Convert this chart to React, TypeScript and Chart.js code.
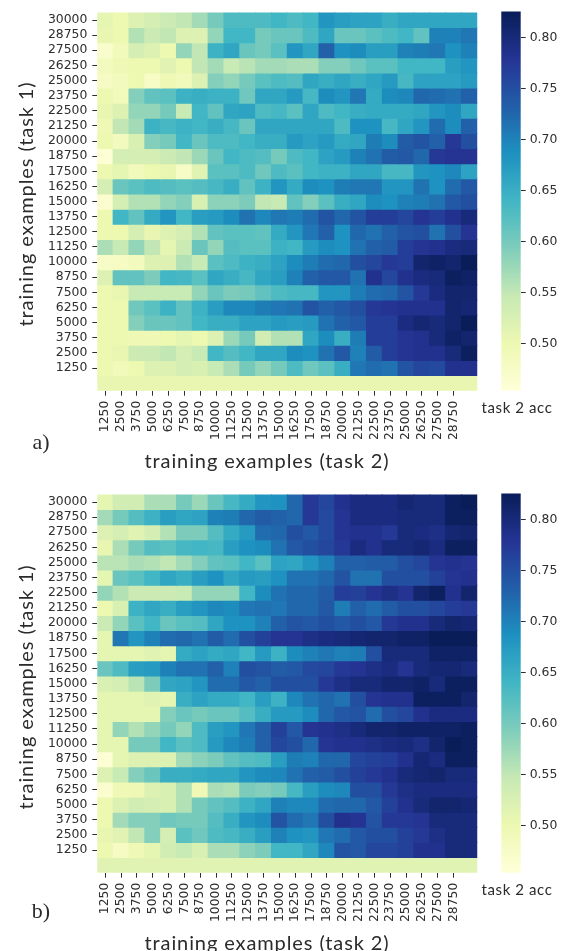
import React, { useEffect, useRef } from "react";
import { Chart, registerables } from "chart.js";

Chart.register(...registerables);

const columnLabels = ["1250","2500","3750","5000","6250","7500","8750","10000","11250","12500","13750","15000","16250","17500","18750","20000","21250","22500","23750","25000","26250","27500","28750",""];
const rowLabels = ["30000","28750","27500","26250","25000","23750","22500","21250","20000","18750","17500","16250","15000","13750","12500","11250","10000","8750","7500","6250","5000","3750","2500","1250",""];
const colorbarTicks = [0.5, 0.55, 0.6, 0.65, 0.7, 0.75, 0.8];
const paletteStops = ["#ffffd9","#edf8b1","#c7e9b4","#7fcdbb","#41b6c4","#1d91c0","#225ea8","#253494","#081d58"];
const accMin = 45.36;
const accMax = 82.6;

const accA = [
[51,50,52,53,54,55,57,60,63,63,63,64,63,64,68,67,66.5,66.5,65,66,66,66,66,66],
[50.5,50,56,54,55,52,52,58,64,64,60,61,61,63,66,61,61,62,63,64,61.5,70,70,71],
[47,49,53,52,50,58,55,64.5,66,61,60,62,68,66,73,68.5,69,67,67,70,70.5,71,68.5,70],
[48.5,49.5,50,50,51.5,50,55,57,54.5,55.5,57,57,56.5,56.5,59,59,60.5,62,62,64,64,64,67,68],
[48,48.5,50,47.5,49.5,49,52,59,58,60,62,63,62.5,66,65,66,65,66,67.5,63.5,66.5,66.5,66.5,67.5],
[50,49,59,61.5,62,64.5,65,64.5,64.5,60.5,66,66,67.5,63.5,69,68,71,65.5,69,69.5,72.5,72,71.5,73],
[50.5,52,58,58,60,54.5,64,61.5,66,66.5,63,63.5,62,66,63,64,65,65.5,65.5,65.5,66,68,69,66],
[49.5,55,57,64.5,63.5,64.5,64,65,63.5,61,66,66,66,66,66,63,68.5,68.5,63.5,66,68,72,69,73],
[50,48.5,52.5,59,60,64,61,63,63,64,65,65,67.5,66.5,67.5,65.5,66,70.5,69,73.5,74.5,73,77.5,75],
[46,53,53,53,54,55,57.5,61,64,63,62.5,60,63,64,66.5,67.5,70,71.5,73.5,74,72.5,77.5,78,78],
[50,51,49,50,50.5,47.5,51.5,62,62,63,60.5,63,62,64,64.5,64.5,66,66,63.5,63.5,68,68.5,69.5,66.5],
[53,61,62,63,62.5,62,62.5,63.5,65,61.5,64.5,68,65.5,69,68.5,70.5,71,71,68,68,71.5,68.5,72,74],
[46.5,53,56,56,58,59,52.5,58.5,58.5,59.5,55,54.5,61.5,59,62,65,66,69,68.5,70,70.5,71.5,74,75],
[50,64,61.5,65.5,68,64,67,67.5,69,71.5,69.5,71,70.5,72,74.5,72.5,74.5,77,77,76,78,77,78.5,80],
[50,50,53,50.5,52,53,56,61.5,62,62,61.5,65.5,68,71,73,68.5,72.5,71.5,73,74.5,75,71.5,75,78],
[56.5,54.5,58,55,51,54,61,58,62.5,62,62,64.5,64,67.5,69,68.5,71.5,73,73.5,77,78,78.5,79.5,80],
[47.5,48,48.5,52,52,56,54.5,62,63,64.5,65,66.5,69,70.5,72,72.5,75,76,77.5,77,81,81.5,81,82.5],
[52,61.5,61.5,59.5,64,63.5,62,66,65,63.5,66,67,70,73,74,74,71.5,78.5,76,78.5,79.5,80,82,81.5],
[50,50.5,54.5,54.5,54.5,54.5,58,61,59.5,60,61.5,63,63.5,63.5,68,68,70.5,72,72.5,74.5,77.5,79.5,81,81],
[50,50,60.5,62,64.5,61.5,64.5,67,69.5,69.5,70.5,71,71.5,74.5,73,74,75,77.5,78,78.5,78.5,78.5,81,80.5],
[50,50,59,61,61,61.5,64,65,65,66.5,66.5,67.5,67,67.5,71.5,73,74,77,77,79.5,80.5,80,81,82.5],
[50,50,49.5,49.5,50,51,50,52,57.5,60,53.5,56,56,66,69,65,70.5,77,77,78,78.5,80,81.5,81],
[50,50.5,54,54,55,53,54.5,64,62.5,64,66,66,69,68.5,71.5,74,70,73.5,77,78,78.5,78.5,80,82],
[50,49,50,52,52,53,52.5,54.5,56.5,60,58,60,63,60.5,62,65,71,72,71.5,74.5,76,75.5,78.5,78.5],
[50.5,50.5,50.5,50.5,50.5,50.5,50.5,50.5,50.5,50.5,50.5,50.5,50.5,50.5,50.5,50.5,50.5,50.5,50.5,50.5,50.5,50.5,50.5,50.5],
];

const accB = [
[51,53.5,53.5,56.5,56.5,60,57.5,61,63.5,65.5,68,68.5,72.5,77.5,76,78.5,79.5,79.5,79.5,80.5,80,80,82,82.5],
[57,60,62.5,64.5,67,66,66.5,70,70.5,72.5,73.5,73,72.5,77.5,75.5,78,79.5,79.5,79.5,80,80,80,82,82],
[52,53,51.5,53,56,59.5,59.5,62.5,65.5,67.5,72,72.5,75,74,75.5,78,78.5,78.5,77.5,80,79.5,79,80.5,81],
[50.5,56.5,60,62.5,62,63.5,64,63.5,67,68.5,69,71.5,74,75,76,77.5,79.5,78.5,80,80,80.5,79.5,82,82],
[55.5,55.5,56.5,56,55,57,59,61.5,62,64,62,66.5,66,68,70,73,73,73.5,73.5,75,76,78,78.5,78],
[51,61,62,64,66,65,67,68.5,66,67.5,67,68.5,71.5,71.5,72.5,74.5,71.5,71.5,75,75,75,76.5,78,78.5],
[58,56,54,54,54,54.5,58,58,58,64,69,71.5,72.5,72.5,73.5,77,76.5,78,79,78,81,82,78.5,81],
[50,52.5,64.5,66,65,67,68,69.5,69,71,71.5,71,72.5,72.5,74,70.5,73,72,73.5,75,75,76,77,77.5],
[54,58,62,64,61,62,62.5,66,68.5,68.5,70,73,74.5,74,75,74,75,74,77.5,78.5,78.5,80,81,80.5],
[51,71,68,70,72,72.5,71.5,73.5,72,75,76.5,78,78,79,79.5,80,80.5,81,81,81.5,81.5,82.5,82.5,82.5],
[51,51,51,51.5,51,65.5,66.5,65.5,66,64,67.5,64.5,69,70,71,70,70.5,75,80,80,80,81.5,81.5,81.5],
[61,63,67,67.5,70,71.5,71.5,73,70,75,74.5,73.5,74,75.5,76,77.5,78,79,79.5,78,80,80.5,80.5,80],
[52.5,53,55.5,59.5,66,66.5,68,72,72,74,73,75,75,75,77.5,79,80,80,81,81,81.5,80,82,82],
[51,51,51,51.5,51,65,66.5,65.5,65.5,64,67,64.5,69.5,71.5,72.5,71.5,75,78,78.5,78.5,82,82,82,81],
[51,51,51,51,59,61,60,61,61,62.5,65,67.5,67.5,69,72.5,74,74.5,72,75,76,78.5,79.5,79.5,79.5],
[51,58,56,58,60,58,63,67,68,71,73,76.5,74,78,78.5,79,80,81,81,81.5,81.5,81.5,81.5,82],
[51,51,60,60,64,62,63,67.5,69.5,70.5,73,76,75,72.5,78,78.5,78.5,79,79.5,80,79,81,82.5,82],
[46,51,52,52,52,57,58.5,59.5,61.5,62.5,63,67,70.5,70,72.5,72.5,76,76.5,77,78.5,80.5,79.5,82,82],
[52,54.5,59,61,65,65,65.5,66,66,68,69,69.5,71.5,73,73.5,75,76.5,77.5,78.5,80,80.5,81,80,80],
[46.5,49.5,49.5,52,52.5,56,49.5,56.5,56,59.5,59,60,63.5,67,69,69.5,75,75,77.5,79,79.5,79.5,79.5,79.5],
[50,52,53.5,53,52.5,56,60,61.5,62.5,64.5,66,70,69.5,69.5,72,72.5,72.5,74,76.5,78.5,80,81,81,80.5],
[50,57,59,59,60.5,60,60,62.5,65,68,69,74.5,72,71,75,78.5,78,74.5,77.5,77.5,78,80,80,80],
[50.5,51.5,55,59,53,62,60.5,63,63.5,65,67,70,68.5,68,71,72,74,75,75,76.5,77.5,79,80,80],
[50,48,49.5,51,53.5,54.5,52.5,56.5,56.5,58.5,59.5,64,64,66,69.5,74.5,74,76,76,76.5,78.5,78.5,80,80],
[51.5,51.5,51.5,51.5,51.5,51.5,51.5,51.5,51.5,51.5,51.5,51.5,51.5,51.5,51.5,51.5,51.5,51.5,51.5,51.5,51.5,51.5,51.5,51.5],
];

const TICK_FONT = { family: "'DejaVu Sans'", size: 12.4 };
const INK = "#2e2e2e";

function hexRgb(h: string) {
  return [parseInt(h.slice(1, 3), 16), parseInt(h.slice(3, 5), 16), parseInt(h.slice(5, 7), 16)];
}
function colorFor(v: number) {
  const t = Math.min(1, Math.max(0, (v - accMin) / (accMax - accMin))) * (paletteStops.length - 1);
  const i = Math.min(paletteStops.length - 2, Math.floor(t));
  const a = hexRgb(paletteStops[i]);
  const b = hexRgb(paletteStops[i + 1]);
  const f = t - i;
  return `rgb(${a.map((c, k) => Math.round(c + (b[k] - c) * f)).join(",")})`;
}

function Heatmap({ data, top, plotTop, plotH, h }: { data: number[][]; top: number; plotTop: number; plotH: number; h: number }) {
  const ref = useRef<HTMLCanvasElement>(null);
  useEffect(() => {
    const n = rowLabels.length;
    const chart = new Chart(ref.current!, {
      type: "bar",
      data: {
        labels: columnLabels,
        datasets: data.map((row, r) => ({
          data: row.map(() => [n - r - 1, n - r]),
          backgroundColor: row.map(colorFor),
          borderWidth: 0,
          inflateAmount: 0.5,
          grouped: false,
          barPercentage: 1,
          categoryPercentage: 1,
        })),
      } as any,
      options: {
        animation: false,
        responsive: false,
        devicePixelRatio: 1,
        layout: { padding: { top: plotTop, right: 12.7, left: 0, bottom: 0 } },
        plugins: { legend: { display: false }, tooltip: { enabled: false } },
        scales: {
          x: {
            type: "category",
            grid: {
              offset: false,
              drawOnChartArea: false,
              tickLength: 5,
              tickColor: (c: any) => (c.index === columnLabels.length - 1 ? "transparent" : INK),
            },
            border: { display: false },
            ticks: { autoSkip: false, minRotation: 90, maxRotation: 90, font: TICK_FONT, color: INK, padding: 5 },
            afterFit: (s: any) => { s.height = h - plotTop - plotH; },
          },
          y: {
            type: "linear",
            min: 0,
            max: n,
            afterBuildTicks: (s: any) => {
              s.ticks = rowLabels.slice(0, -1).map((_, i) => ({ value: n - i - 0.5 }));
            },
            grid: { drawOnChartArea: false, tickLength: 5, tickColor: INK },
            border: { display: false },
            ticks: {
              autoSkip: false,
              font: TICK_FONT,
              color: INK,
              padding: 5,
              callback: (v: any) => rowLabels[Math.round(n - Number(v) - 0.5)],
            },
            afterFit: (s: any) => { s.width = 97.3; },
          },
        },
      } as any,
    });
    return () => chart.destroy();
  }, []);
  return <canvas ref={ref} width={490} height={h} style={{ position: "absolute", left: 0, top, filter: "blur(0.45px)" }} />;
}

function Colorbar({ top, plotTop, plotH, h }: { top: number; plotTop: number; plotH: number; h: number }) {
  const ref = useRef<HTMLCanvasElement>(null);
  useEffect(() => {
    const chart = new Chart(ref.current!, {
      type: "bar",
      data: {
        labels: [""],
        datasets: [{
          data: [[accMin / 100, accMax / 100]],
          borderWidth: 0,
          barPercentage: 1,
          categoryPercentage: 1,
          backgroundColor: (c: any) => {
            const area = c.chart.chartArea;
            if (!area) return paletteStops[4];
            const g = c.chart.ctx.createLinearGradient(0, area.bottom, 0, area.top);
            paletteStops.forEach((p, i) => g.addColorStop(i / (paletteStops.length - 1), p));
            return g;
          },
        }],
      } as any,
      options: {
        animation: false,
        responsive: false,
        devicePixelRatio: 1,
        layout: { padding: { top: plotTop, left: 11.3, right: 0, bottom: h - plotTop - plotH } },
        plugins: { legend: { display: false }, tooltip: { enabled: false } },
        scales: {
          x: { display: false },
          y: {
            position: "right",
            min: accMin / 100,
            max: accMax / 100,
            afterBuildTicks: (s: any) => { s.ticks = colorbarTicks.map((value) => ({ value })); },
            grid: { drawOnChartArea: false, tickLength: 5, tickColor: INK },
            border: { display: false },
            ticks: { autoSkip: false, font: TICK_FONT, color: INK, padding: 4, callback: (v: any) => Number(v).toFixed(2) },
            afterFit: (s: any) => { s.width = 43.3; },
          },
        },
      } as any,
    });
    return () => chart.destroy();
  }, []);
  return <canvas ref={ref} width={74} height={h} style={{ position: "absolute", left: 490, top, filter: "blur(0.45px)" }} />;
}

const TITLE_FONT = "Lato, sans-serif";
function Label({ text, cx, cy, size, rotate, family, spacing, weight }: { text: string; cx: number; cy: number; size: number; rotate?: boolean; family?: string; spacing?: number; weight?: number }) {
  return (
    <div style={{
      position: "absolute", left: cx, top: cy, whiteSpace: "nowrap", fontFamily: family || TITLE_FONT, fontSize: size,
      letterSpacing: spacing || 0, color: "#2b2b2b", lineHeight: 1, fontWeight: weight || 400,
      transform: `translate(-50%,-50%)${rotate ? " rotate(-90deg)" : ""}`,
    }}>{text}</div>
  );
}

export default function App() {
  return (
    <div style={{ position: "absolute", left: 0, top: 0, width: 564, height: 951, overflow: "hidden", background: "#fff" }}>
      <Heatmap data={accA} top={0} plotTop={10} plotH={380.7} h={480} />
      <Colorbar top={0} plotTop={10} plotH={380.7} h={480} />
      <Heatmap data={accB} top={482} plotTop={10.7} plotH={380} h={469} />
      <Colorbar top={482} plotTop={10.7} plotH={380} h={469} />
      <Label text="training examples (task 1)" cx={25} cy={204} size={20} rotate spacing={0.9} />
      <Label text="training examples (task 2)" cx={267} cy={460} size={20} spacing={0.9} />
      <Label text="task 2 acc" cx={517} cy={407} size={15} spacing={0.6} />
      <Label text="a)" cx={41} cy={442} size={22} family="'Liberation Serif', serif" />
      <Label text="training examples (task 1)" cx={25} cy={687} size={20} rotate spacing={0.9} />
      <Label text="training examples (task 2)" cx={267} cy={942} size={20} spacing={0.9} />
      <Label text="task 2 acc" cx={517} cy={889} size={15} spacing={0.6} />
      <Label text="b)" cx={41} cy={911} size={22} family="'Liberation Serif', serif" />
    </div>
  );
}
